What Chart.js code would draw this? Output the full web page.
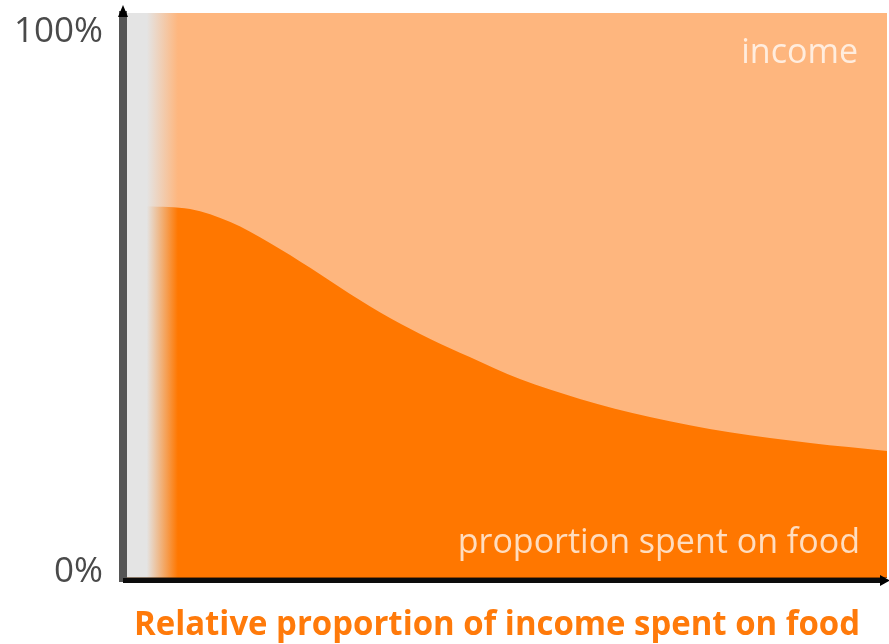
<!DOCTYPE html>
<html>
<head>
<meta charset="utf-8">
<script src="https://cdn.jsdelivr.net/npm/chart.js@4/dist/chart.umd.min.js"></script>
<style>
  html, body { margin: 0; padding: 0; background: #fff; }
  #wrap { width: 889px; height: 644px; position: relative; }
</style>
</head>
<body>
<div id="wrap"><canvas id="foodChart"></canvas></div>
<script>
// ----- data -----
const incomeLevel = [2.6, 8.3, 13.6, 18.8, 24.1, 29.3, 34.6, 39.9, 45.1, 51.7, 59.6, 68.8, 79.3, 89.9, 100];
const foodShare   = [65.8, 65.3, 63.0, 59.3, 54.9, 50.3, 46.0, 42.3, 39.1, 35.2, 31.7, 28.5, 25.8, 23.9, 22.5];
const incomeRange = [0, 100];
const incomeTotal = [100, 100];
const yTickValues = [0, 100];
const yTickLabels = ['0%', '100%'];
const areaLabels  = ['income', 'proportion spent on food'];
const chartTitle  = 'Relative proportion of income spent on food';

// left grey strip fades into the colour between these x values
const fadeFrom = 2.6;
const fadeTo = 6.7;

function fadeFill(ctx, colour) {
    const chart = ctx.chart;
    const area = chart.chartArea;
    if (!area) return colour;
    const x = chart.scales.x;
    const g = chart.ctx.createLinearGradient(area.left, 0, area.right, 0);
    const w = area.right - area.left;
    g.addColorStop(0, '#e4e4e4');
    g.addColorStop((x.getPixelForValue(fadeFrom) - area.left) / w, '#e4e4e4');
    g.addColorStop((x.getPixelForValue(fadeTo) - area.left) / w, colour);
    g.addColorStop(1, colour);
    return g;
}

// axes, arrows and the texts
const decorations = {
    id: 'decorations',
    afterDatasetsDraw(chart) {
        const c = chart.ctx;
        const a = chart.chartArea;
        const y = chart.scales.y;
        c.save();

        // y axis (grey) and x axis (black)
        c.fillStyle = '#555555';
        c.fillRect(a.left - 8, a.top - 2, 8, a.bottom - a.top + 6);
        c.fillStyle = '#0c0c0c';
        c.fillRect(a.left - 4, a.bottom, a.right - a.left + 2, 5);
        c.fillStyle = 'rgba(60,30,0,0.55)';
        c.fillRect(a.left, a.bottom - 1, a.right - a.left, 1);

        // arrow heads
        c.fillStyle = '#000';
        c.beginPath();
        c.moveTo(a.left - 4, a.top - 8);
        c.lineTo(a.left - 9, a.top + 4);
        c.lineTo(a.left + 1, a.top + 4);
        c.closePath();
        c.fill();
        c.beginPath();
        c.moveTo(a.right + 3, a.bottom + 2.5);
        c.lineTo(a.right - 7, a.bottom - 3);
        c.lineTo(a.right - 7, a.bottom + 8);
        c.closePath();
        c.fill();

        // tick labels, pushed inside the ends of the axis
        c.font = '35px "Open Sans", sans-serif';
        c.fillStyle = '#4a4a4a';
        c.textAlign = 'right';
        c.textBaseline = 'alphabetic';
        c.fillText(yTickLabels[1], a.left - 24, y.getPixelForValue(yTickValues[1]) + 29);
        c.fillText(yTickLabels[0], a.left - 24, y.getPixelForValue(yTickValues[0]) + 4);

        // area labels
        c.font = '34px "Open Sans", sans-serif';
        c.fillStyle = 'rgba(255,255,255,0.75)';
        c.fillText(areaLabels[0], a.right - 29, a.top + 50);
        c.fillText(areaLabels[1], a.right - 27, a.bottom - 25, 403);

        // title under the x axis
        c.font = 'bold 34px "Open Sans", sans-serif';
        c.fillStyle = '#ff7a0a';
        c.textAlign = 'center';
        c.fillText(chartTitle, 497, 635, 726);
        c.restore();
    }
};

new Chart(document.getElementById('foodChart'), {
    type: 'line',
    data: {
        datasets: [
            {
                label: 'proportion spent on food',
                data: incomeLevel.map((v, i) => ({ x: v, y: foodShare[i] })),
                fill: 'origin',
                backgroundColor: (ctx) => fadeFill(ctx, '#ff7700'),
                borderWidth: 0,
                pointRadius: 0,
                cubicInterpolationMode: 'monotone',
                order: 1
            },
            {
                label: 'income',
                data: incomeRange.map((v, i) => ({ x: v, y: incomeTotal[i] })),
                fill: 'origin',
                backgroundColor: (ctx) => fadeFill(ctx, '#feb67e'),
                borderWidth: 0,
                pointRadius: 0,
                order: 2
            }
        ]
    },
    options: {
        responsive: true,
        maintainAspectRatio: false,
        animation: false,
        layout: { padding: { left: 127, right: 2, top: 13, bottom: 66 } },
        plugins: {
            legend: { display: false },
            tooltip: { enabled: false }
        },
        scales: {
            x: { type: 'linear', min: 0, max: 100, display: false },
            y: { min: 0, max: 100, display: false }
        }
    },
    plugins: [decorations]
});
</script>
</body>
</html>
